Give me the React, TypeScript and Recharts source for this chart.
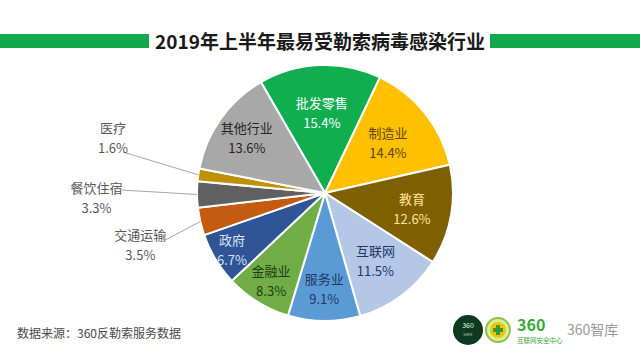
import React from "react";
import { PieChart, Pie, Cell } from "recharts";

const categories = ["批发零售", "制造业", "教育", "互联网", "服务业", "金融业", "政府", "交通运输", "餐饮住宿", "医疗", "其他行业"];
const shares = [15.4, 14.4, 12.6, 11.5, 9.1, 8.3, 6.7, 3.5, 3.3, 1.6, 13.6];
const sliceLabels = ["15.4%", "14.4%", "12.6%", "11.5%", "9.1%", "8.3%", "6.7%", "3.5%", "3.3%", "1.6%", "13.6%"];

const title = "2019年上半年最易受勒索病毒感染行业";
const sourceNote = "数据来源：360反勒索服务数据";

const fillColors: Record<string, string> = {
  批发零售: "#11ae4f",
  制造业: "#ffc000",
  教育: "#7f6000",
  互联网: "#b4c7e7",
  服务业: "#5b9bd5",
  金融业: "#70ad47",
  政府: "#2f5597",
  交通运输: "#c55a11",
  餐饮住宿: "#606060",
  医疗: "#bf9000",
  其他行业: "#a8a8a8",
};

const textColors: Record<string, string> = {
  批发零售: "#ffffff",
  制造业: "#5e4700",
  教育: "#ffe699",
  互联网: "#203864",
  服务业: "#1f3864",
  金融业: "#1e3d12",
  政府: "#dae3f3",
  其他行业: "#262626",
};

// label layout: inside radius factors, or outside leader layout
const insideR: Record<string, number> = {
  批发零售: 0.63,
  制造业: 0.63,
  教育: 0.69,
  互联网: 0.66,
  服务业: 0.75,
  金融业: 0.8,
  政府: 0.85,
  其他行业: 0.75,
};
const outside: Record<string, { f: number; da: number; tx: number; ty: number }> = {
  医疗: { f: 1.61, da: -3.3, tx: -10, ty: -25 },
  餐饮住宿: { f: 1.59, da: -1.5, tx: -25, ty: -3 },
  交通运输: { f: 1.3, da: 3.5, tx: -25, ty: -5 },
};

const data = categories.map((name, i) => ({ name, value: shares[i], pct: sliceLabels[i] }));

const RAD = Math.PI / 180;
const FONT = "'Noto Sans CJK SC', 'Noto Sans', sans-serif";

const renderLabel = (props: any) => {
  const { cx, cy, midAngle, outerRadius, index } = props;
  const d = data[index];
  if (outside[d.name]) {
    const o = outside[d.name];
    const sx = cx + outerRadius * Math.cos(-midAngle * RAD);
    const sy = cy + outerRadius * Math.sin(-midAngle * RAD);
    const a = midAngle + o.da;
    const ex = cx + outerRadius * o.f * Math.cos(-a * RAD);
    const ey = cy + outerRadius * o.f * Math.sin(-a * RAD);
    return (
      <g key={`l-${index}`}>
        <polyline points={`${sx},${sy} ${ex},${ey}`} stroke="#a6a6a6" strokeWidth={1} fill="none" />
        <text x={ex + o.tx} y={ey + o.ty} textAnchor="middle" dominantBaseline="central" fill="#595959" fontSize={13} fontFamily={FONT}>
          {d.name}
        </text>
        <text x={ex + o.tx} y={ey + o.ty + 20} textAnchor="middle" dominantBaseline="central" fill="#595959" fontSize={13} fontFamily={FONT}>
          {d.pct}
        </text>
      </g>
    );
  }
  const r = outerRadius * (insideR[d.name] ?? 0.7);
  const x = cx + r * Math.cos(-midAngle * RAD);
  const y = cy + r * Math.sin(-midAngle * RAD);
  const c = textColors[d.name] ?? "#222";
  return (
    <g key={`l-${index}`}>
      <text x={x} y={y - 10} textAnchor="middle" dominantBaseline="central" fill={c} fontSize={13} fontFamily={FONT}>
        {d.name}
      </text>
      <text x={x} y={y + 10} textAnchor="middle" dominantBaseline="central" fill={c} fontSize={13} fontFamily={FONT}>
        {d.pct}
      </text>
    </g>
  );
};

export default function App() {
  return (
    <div style={{ position: "absolute", left: 0, top: 0, width: 640, height: 360, background: "#ffffff", overflow: "hidden", fontFamily: FONT }}>
      <div style={{ position: "absolute", left: 0, top: 34, width: 149, height: 14, background: "#12a84e" }} />
      <div style={{ position: "absolute", left: 490, top: 34, width: 150, height: 14, background: "#12a84e" }} />
      <div style={{ position: "absolute", left: 150, top: 27, width: 340, height: 28, lineHeight: "28px", textAlign: "center", fontSize: 19, fontWeight: 700, color: "#1a1a1a", whiteSpace: "nowrap" }}>
        {title}
      </div>
      <div style={{ position: "absolute", left: 0, top: 0 }}>
        <PieChart width={640} height={360}>
          <Pie
            data={data}
            dataKey="value"
            nameKey="name"
            cx={320}
            cy={188}
            outerRadius={128}
            startAngle={120}
            endAngle={-240}
            stroke="#ffffff"
            strokeWidth={2}
            label={renderLabel}
            labelLine={false}
            isAnimationActive={false}
          >
            {data.map((d) => (
              <Cell key={d.name} fill={fillColors[d.name]} />
            ))}
          </Pie>
        </PieChart>
      </div>
      <div style={{ position: "absolute", left: 17, top: 324, fontSize: 12, color: "#4a4a4a", whiteSpace: "nowrap", lineHeight: "18px" }}>
        {sourceNote}
      </div>
      <svg style={{ position: "absolute", left: 440, top: 305 }} width={200} height={55}>
        <circle cx={28} cy={25} r={15} fill="#0e3b1f" />
        <text x={28} y={23} textAnchor="middle" fontSize={7} fill="#dfe" fontFamily={FONT}>360</text>
        <text x={28} y={31} textAnchor="middle" fontSize={4} fill="#cdc" fontFamily={FONT}>SAFE</text>
        <circle cx={58} cy={25} r={12} fill="#d8ef9a" stroke="#8bc34a" strokeWidth={2} />
        <circle cx={58} cy={25} r={8} fill="#f5c400" />
        <rect x={56} y={20} width={4} height={10} fill="#2e9a3a" />
        <rect x={53} y={23} width={10} height={4} fill="#2e9a3a" />
        <text x={77} y={26} fontSize={16} fontWeight={700} fill="#3aa83a" fontFamily={FONT}>360</text>
        <text x={77} y={38} fontSize={6.5} fill="#3aa83a" fontFamily={FONT}>互联网安全中心</text>
        <text x={127} y={30} fontSize={14} fill="#9a9a9a" fontFamily={FONT}>360智库</text>
      </svg>
    </div>
  );
}
